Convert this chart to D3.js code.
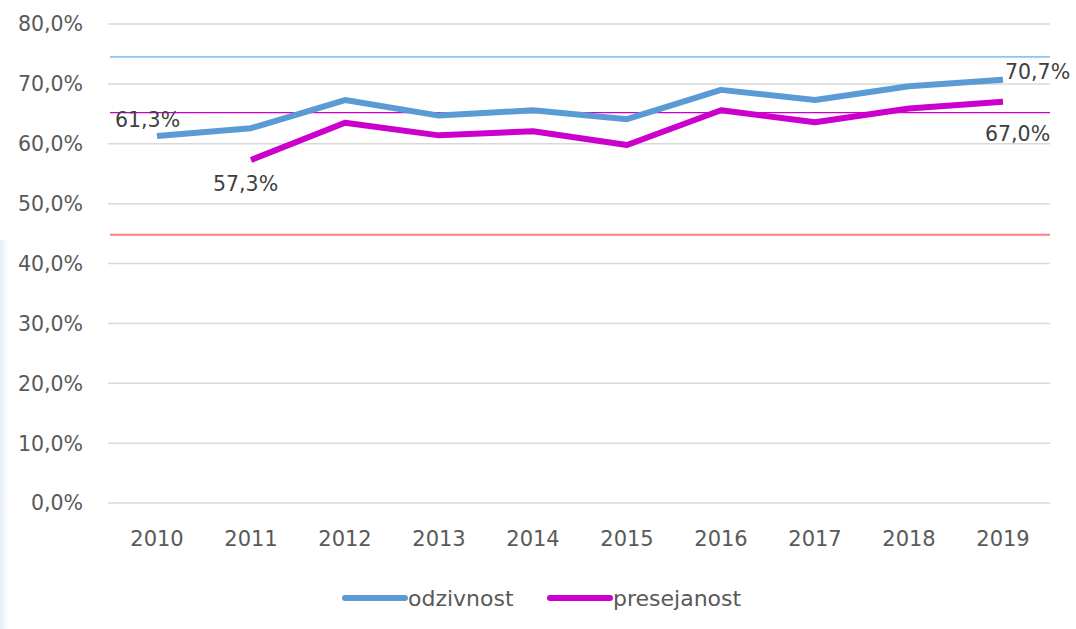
<!DOCTYPE html>
<html><head><meta charset="utf-8">
<script src="https://cdn.jsdelivr.net/npm/d3@7"></script>
<style>body{margin:0;background:#fff}svg{display:block}text{font-family:"DejaVu Sans",Verdana,sans-serif}</style>
</head><body>
<script>
const years = ["2010","2011","2012","2013","2014","2015","2016","2017","2018","2019"];
const odzivnost = [61.3, 62.6, 67.3, 64.7, 65.6, 64.1, 69.0, 67.3, 69.6, 70.7];
const presejanost = [null, 57.3, 63.5, 61.4, 62.1, 59.8, 65.6, 63.6, 65.9, 67.0];
const refLines = [74.5, 65.2, 44.8];
const refColors = ["#8ec3f5", "#cc00cc", "#ff7f86"];
const yTicks = [0,10,20,30,40,50,60,70,80];
const seriesNames = ["odzivnost","presejanost"];
const seriesColors = ["#5b9bd5","#cc00cc"];

const W=1076,H=629;
const svg=d3.select("body").append("svg").attr("width",W).attr("height",H);
const defs=svg.append("defs");
const g0=defs.append("linearGradient").attr("id","lg").attr("x1",0).attr("x2",1);
g0.append("stop").attr("offset",0).attr("stop-color","#e6ecf8");
g0.append("stop").attr("offset",1).attr("stop-color","#ffffff");
svg.append("rect").attr("x",0).attr("y",240).attr("width",8).attr("height",H-240).attr("fill","url(#lg)");

const x=d3.scaleBand().domain(years).range([110,1050]);
const y=d3.scaleLinear().domain([0,80]).range([503,24]);
const fmt=v=>d3.format(".1f")(v).replace(".",",")+"%";

// gridlines
svg.append("g").selectAll("line").data(yTicks).join("line")
 .attr("x1",108).attr("x2",1050).attr("y1",d=>y(d)).attr("y2",d=>y(d))
 .attr("stroke","#d9d9d9").attr("stroke-width",1.5);
// y labels
svg.append("g").selectAll("text").data(yTicks).join("text")
 .attr("x",83).attr("y",d=>y(d)).attr("dy","0.36em").attr("text-anchor","end")
 .attr("font-size",20.5).attr("fill","#595959").text(d=>fmt(d));
// x labels
svg.append("g").selectAll("text").data(years).join("text")
 .attr("x",d=>x(d)+x.bandwidth()/2).attr("y",538).attr("dy","0.36em").attr("text-anchor","middle")
 .attr("font-size",21).attr("fill","#595959").text(d=>d);
// reference lines
svg.append("g").selectAll("line").data(refLines).join("line")
 .attr("x1",110).attr("x2",1050).attr("y1",d=>y(d)).attr("y2",d=>y(d))
 .attr("stroke",(d,i)=>refColors[i]).attr("stroke-width",(d,i)=>i==1?1.2:1.8);

const cx=d=>x(d)+x.bandwidth()/2;
const line=d3.line().defined(d=>d.v!=null).x(d=>cx(d.y)).y(d=>y(d.v));
[odzivnost,presejanost].forEach((arr,i)=>{
  const data=years.map((yy,k)=>({y:yy,v:arr[k]}));
  svg.append("path").datum(data).attr("d",line).attr("fill","none")
   .attr("stroke",seriesColors[i]).attr("stroke-width",6).attr("stroke-linejoin","round");
});

// data labels
const labels=[
 {y:"2010",v:odzivnost[0],dx:-42,dy:-16},
 {y:"2019",v:odzivnost[9],dx:2,dy:-8},
 {y:"2011",v:presejanost[1],dx:-38,dy:24},
 {y:"2019",v:presejanost[9],dx:-18,dy:32}
];
svg.append("g").selectAll("text").data(labels).join("text")
 .attr("x",d=>cx(d.y)+d.dx).attr("y",d=>y(d.v)+d.dy).attr("dy","0.36em")
 .attr("font-size",20.5).attr("fill","#404040").text(d=>fmt(d.v));

// legend
const lg=svg.append("g");
const lx=[345,550];
seriesNames.forEach((n,i)=>{
  lg.append("line").attr("x1",lx[i]).attr("x2",lx[i]+60).attr("y1",598).attr("y2",598)
   .attr("stroke",seriesColors[i]).attr("stroke-width",6).attr("stroke-linecap","round");
  lg.append("text").attr("x",lx[i]+63).attr("y",598).attr("dy","0.36em")
   .attr("font-size",22).attr("fill","#595959").text(n);
});
</script>
</body></html>
